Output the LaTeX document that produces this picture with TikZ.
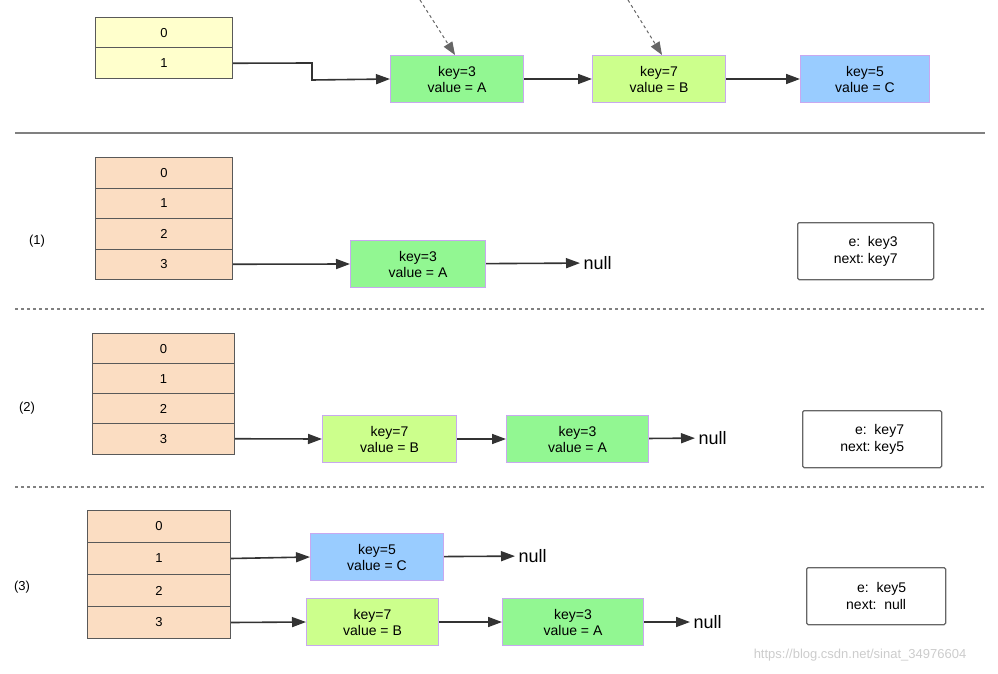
\documentclass[tikz,border=0pt]{standalone}
\usepackage{fontspec}
\setmainfont{Liberation Sans}
\usetikzlibrary{arrows.meta}
\definecolor{yel}{HTML}{FFFFCC}
\definecolor{ora}{HTML}{FBDDC2}
\definecolor{grn}{HTML}{92F792}
\definecolor{lgr}{HTML}{CCFF8C}
\definecolor{blu}{HTML}{99CCFF}
\definecolor{edg}{HTML}{C8A8F0}
\begin{document}
\begin{tikzpicture}[x=1pt,y=-1pt,
 cell/.style={draw=gray!70!black,line width=1pt,minimum width=#1,minimum height=30.5pt,inner sep=0pt,font=\fontsize{13}{13}\selectfont,anchor=north west},
 ent/.style={draw=edg,line width=1pt,minimum width=133pt,minimum height=47pt,inner sep=0pt,align=center,font=\fontsize{14}{16}\selectfont,anchor=north west},
 info/.style={draw=gray!80!black,line width=1.3pt,rounded corners=1.5pt,minimum width=136pt,minimum height=57pt,anchor=north west,align=right,font=\fontsize{14}{17}\selectfont},
 arr/.style={draw=black!80,line width=1.6pt,-{Triangle[length=14pt,width=10pt]}},
 nul/.style={font=\fontsize{18}{18}\selectfont,anchor=west},
 lab/.style={font=\fontsize{13}{13}\selectfont}]
\useasboundingbox (0,0) rectangle (998,674);
% top
\node[cell=137pt,fill=yel] (t0) at (95,17) {0};
\node[cell=137pt,fill=yel] (t1) at (95,47.5) {1};
\node[ent,fill=grn] (a3) at (390,55) {key=3\\value = A};
\node[ent,fill=lgr] (a7) at (592,55) {key=7\\value = B};
\node[ent,fill=blu,minimum width=129pt] (a5) at (800,55) {key=5\\value = C};
\draw[arr] (t1.east) -- (312,63) -- (312,80) -- (a3.west);
\draw[arr] (a3) -- (a7);
\draw[arr] (a7) -- (a5);
\coordinate (d1) at (420,0); \coordinate (d2) at (628,0);
\draw[gray!80!black,dashed,line width=1pt,-{Triangle[length=13pt,width=10pt]}] (d1) -- (a3.north -| 455,0);
\draw[gray!80!black,dashed,line width=1pt,-{Triangle[length=13pt,width=10pt]}] (d2) -- (a7.north -| 662,0);
\draw[gray,line width=1.3pt] (15,133) -- (985,133);
% section 1
\foreach \i in {0,1,2,3}{\node[cell=137pt,fill=ora] (p\i) at (95,157+30.5*\i) {\i};}
\node[lab] (l1) at (37,241) {(1)};
\node[ent,fill=grn,minimum width=135pt] (b3) at (350,240) {key=3\\value = A};
\node[nul] (n1) at (580,263) {null};
\draw[arr] (p3.east) -- (b3.west);
\draw[arr] (b3) -- (n1);
\node[info] (i1) at (797,222) {e:\ \ key3\\next:\ key7};
\draw[gray,dashed,line width=1.3pt] (15,309) -- (985,309);
% section 2
\foreach \i in {0,1,2,3}{\node[cell=142pt,fill=ora] (q\i) at (92,333+30*\i) {\i};}
\node[lab] (l2) at (27,408) {(2)};
\node[ent,fill=lgr,minimum width=134pt] (c7) at (322,415) {key=7\\value = B};
\node[ent,fill=grn,minimum width=142pt] (c3) at (506,415) {key=3\\value = A};
\node[nul] (n2) at (695,438) {null};
\draw[arr] (q3.east) -- (c7.west);
\draw[arr] (c7) -- (c3);
\draw[arr] (c3) -- (n2);
\node[info,minimum width=139pt] (i2) at (802,410) {e:\ \ key7\\next:\ key5};
\draw[gray,dashed,line width=1.3pt] (15,487) -- (985,487);
% section 3
\foreach \i in {0,1,2,3}{\node[cell=143pt,fill=ora,minimum height=32pt] (r\i) at (87,510+32*\i) {\i};}
\node[lab] (l3) at (22,587) {(3)};
\node[ent,fill=blu] (e5) at (310,533) {key=5\\value = C};
\node[nul] (n3) at (515,556) {null};
\node[ent,fill=lgr,minimum width=132pt] (e7) at (306,598) {key=7\\value = B};
\node[ent,fill=grn,minimum width=141pt] (e3) at (502,598) {key=3\\value = A};
\node[nul] (n4) at (690,622) {null};
\draw[arr] (r1.east) -- (e5.west);
\draw[arr] (e5) -- (n3);
\draw[arr] (r3.east) -- (e7.west);
\draw[arr] (e7) -- (e3);
\draw[arr] (e3) -- (n4);
\node[info,minimum width=139pt] (i3) at (806,567) {e:\ \ key5\\next:\ \ null};
\node[font=\fontsize{13}{13}\selectfont,text=gray!40] (wm) at (860,655) {https://blog.csdn.net/sinat\_34976604};
\end{tikzpicture}
\end{document}
